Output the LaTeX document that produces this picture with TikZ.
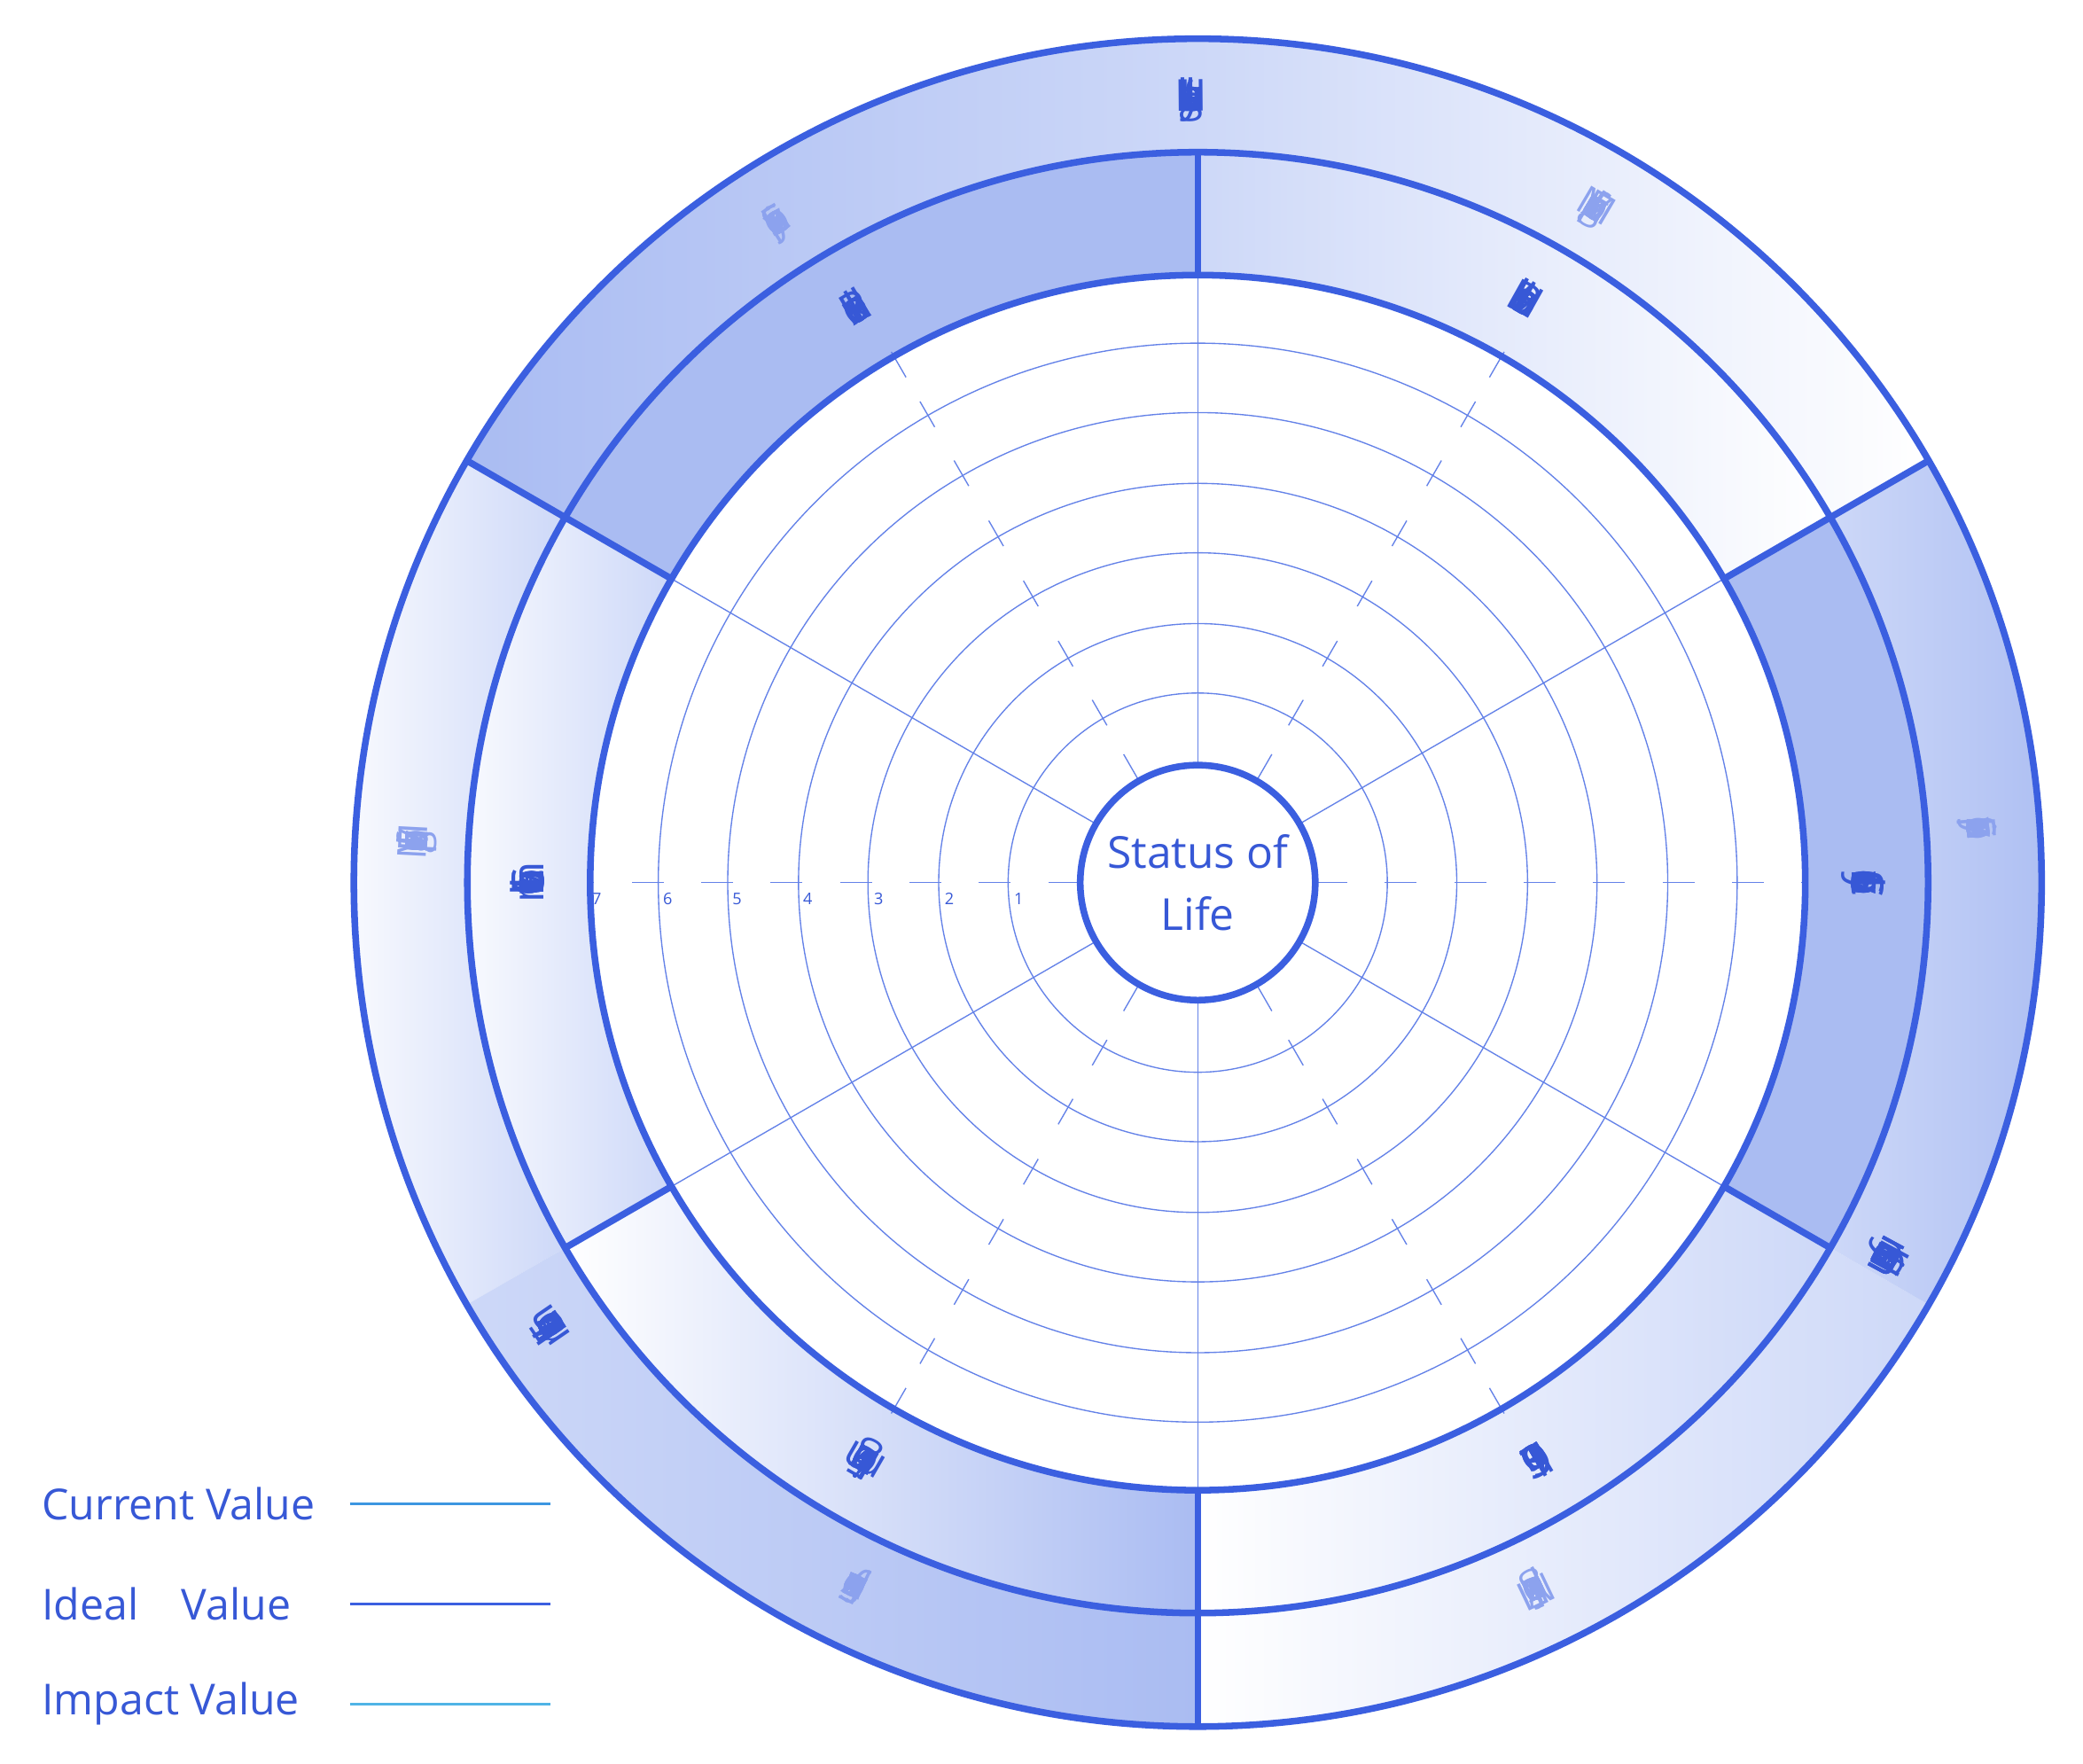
\documentclass[tikz,border=0pt]{standalone}
\usepackage{fontspec}
\setmainfont{Open Sans}
\definecolor{rb}{RGB}{59,95,224}
\definecolor{gl}{RGB}{100,130,232}
\definecolor{dk}{RGB}{170,188,242}
\definecolor{md}{RGB}{205,216,248}
\definecolor{lt}{RGB}{140,162,238}
\definecolor{tx}{RGB}{55,88,214}
\definecolor{cur}{RGB}{60,150,225}
\definecolor{imp}{RGB}{80,180,230}
\newcommand\sectfill[5]{\shade[#5] (#1:#3) arc[start angle=#1,end angle=#2,radius=#3] -- (#2:#4) arc[start angle=#2,end angle=#1,radius=#4] -- cycle;}
\newcommand\arctext[4]{%
 \gdef\curfont{#3}\gdef\currad{#2}%
 \setbox0=\hbox{#3#4}%
 \pgfmathsetmacro\wtot{\the\wd0}%
 \pgfmathsetmacro\tmpa{#1+(\wtot/2)/#2*57.29578}%
 \xdef\curang{\tmpa}%
 \arcloop#4\relax}
\def\arcloop#1{\ifx#1\relax\else\placechar{#1}\expandafter\arcloop\fi}
\newcommand\placechar[1]{%
 \setbox0=\hbox{\curfont #1}%
 \pgfmathsetmacro\wch{\the\wd0}%
 \pgfmathsetmacro\tmpb{\curang-(\wch/2)/\currad*57.29578}%
 \xdef\chang{\tmpb}%
 \node[rotate=\chang-90,anchor=base,inner sep=0pt] at (\chang:\currad) {\curfont #1};%
 \pgfmathsetmacro\tmpc{\curang-\wch/\currad*57.29578}%
 \xdef\curang{\tmpc}}
\newcommand\fdk{\fontsize{33}{33}\selectfont\color{tx}}
\newcommand\flt{\fontsize{30}{30}\selectfont\color{lt}}
\tikzset{ring/.style={draw=rb,line width=5pt},grid/.style={draw=gl,line width=0.9pt},
leg/.style={text=tx,font=\fontsize{32}{32}\selectfont,anchor=west}}
\begin{document}
\begin{tikzpicture}[x=1pt,y=1pt]
\useasboundingbox (0,0) rectangle (1560,1321);
\fill[white] (0,0) rectangle (1560,1321);
\begin{scope}[shift={(897,660)}]
% outer ring sectors
\sectfill{90}{150}{547}{632}{left color=dk,right color=md}
\sectfill{30}{90}{547}{632}{left color=md,right color=white}
\sectfill{150}{210}{547}{632}{left color=white,right color=md}
\sectfill{210}{270}{547}{632}{left color=md,right color=dk}
\sectfill{270}{330}{547}{632}{left color=white,right color=md}
\sectfill{-30}{30}{547}{632}{left color=md,right color=dk}
% inner ring sectors
\sectfill{90}{150}{455}{547}{left color=dk,right color=dk}
\sectfill{30}{90}{455}{547}{left color=md,right color=white}
\sectfill{150}{210}{455}{547}{left color=white,right color=md}
\sectfill{210}{270}{455}{547}{left color=white,right color=dk}
\sectfill{270}{330}{455}{547}{left color=white,right color=md}
\sectfill{-30}{30}{455}{547}{left color=dk,right color=dk}
% grid
\foreach \r in {142,194,247,299,352,404} \draw[grid] (0,0) circle[radius=\r];
\foreach \a in {90,30,150,210,330,270} \draw[grid] (\a:88) -- (\a:455);
\draw[grid,dash pattern=on 24pt off 28pt] (88,0) -- (455,0);
\draw[grid,dash pattern=on 24pt off 28pt] (-88,0) -- (-455,0);
\foreach \a in {60,120,240,300}
  \foreach \r in {100,147,198,250,302,354,405,448}
    \draw[grid] (\a:\r-11) -- (\a:\r+11);
\foreach \n/\x in {1/-134,2/-186,3/-239,4/-292,5/-345,6/-397,7/-450}
  \node[text=tx,font=\fontsize{12}{12}\selectfont] (n\n) at (\x,-12) {\n};
% rings
\draw[ring] (0,0) circle[radius=632];
\draw[ring] (0,0) circle[radius=547];
\draw[ring] (0,0) circle[radius=455];
\foreach \a in {90,30,-30,-90,150,210} \draw[ring] (\a:455) -- (\a:547);
\foreach \a in {30,150,270} \draw[ring] (\a:547) -- (\a:632);
\node[circle,minimum size=176pt,fill=white,ring,text=tx,align=center,
 font=\fontsize{33}{46}\selectfont] (core) at (0,0) {Status of\\Life};
% labels
\arctext{90.5}{578}{\fdk}{Healthy~Living}
\arctext{122.5}{578}{\flt}{Sensory~Experience}
\arctext{59.5}{578}{\flt}{Meaningful~Experience}
\arctext{120.8}{490}{\fdk}{Pleasure~Index}
\arctext{60.7}{490}{\fdk}{Health~Behvior}
\arctext{0}{490}{\fdk}{Social~Connectivity}
\arctext{-59.6}{490}{\fdk}{Social~Contribution}
\arctext{-120}{490}{\fdk}{Living~Environment}
\arctext{180}{490}{\fdk}{Envrionmental~Contribution}
\arctext{177}{578}{\flt}{Meaningful~Experience}
\arctext{214.4}{578}{\fdk}{Livable~Environment}
\arctext{-116}{578}{\flt}{Sensory~Experience}
\arctext{4}{578}{\flt}{Sensory~Experience}
\arctext{-28.5}{578}{\fdk}{Harmonious~Community}
\arctext{-64.5}{578}{\flt}{Meaningful~Experience}
\end{scope}
% legend
\node[leg] (l1) at (28,195) {Current Value};
\node[leg] (l2) at (28,120) {Ideal\quad Value};
\node[leg] (l3) at (28,45) {Impact Value};
\coordinate (a1) at (262,195); \coordinate (b1) at (412,195);
\coordinate (a2) at (262,120); \coordinate (b2) at (412,120);
\coordinate (a3) at (262,45); \coordinate (b3) at (412,45);
\draw[cur,line width=1.8pt] (a1) -- (b1);
\draw[rb,line width=1.8pt] (a2) -- (b2);
\draw[imp,line width=1.8pt] (a3) -- (b3);
\end{tikzpicture}
\end{document}
